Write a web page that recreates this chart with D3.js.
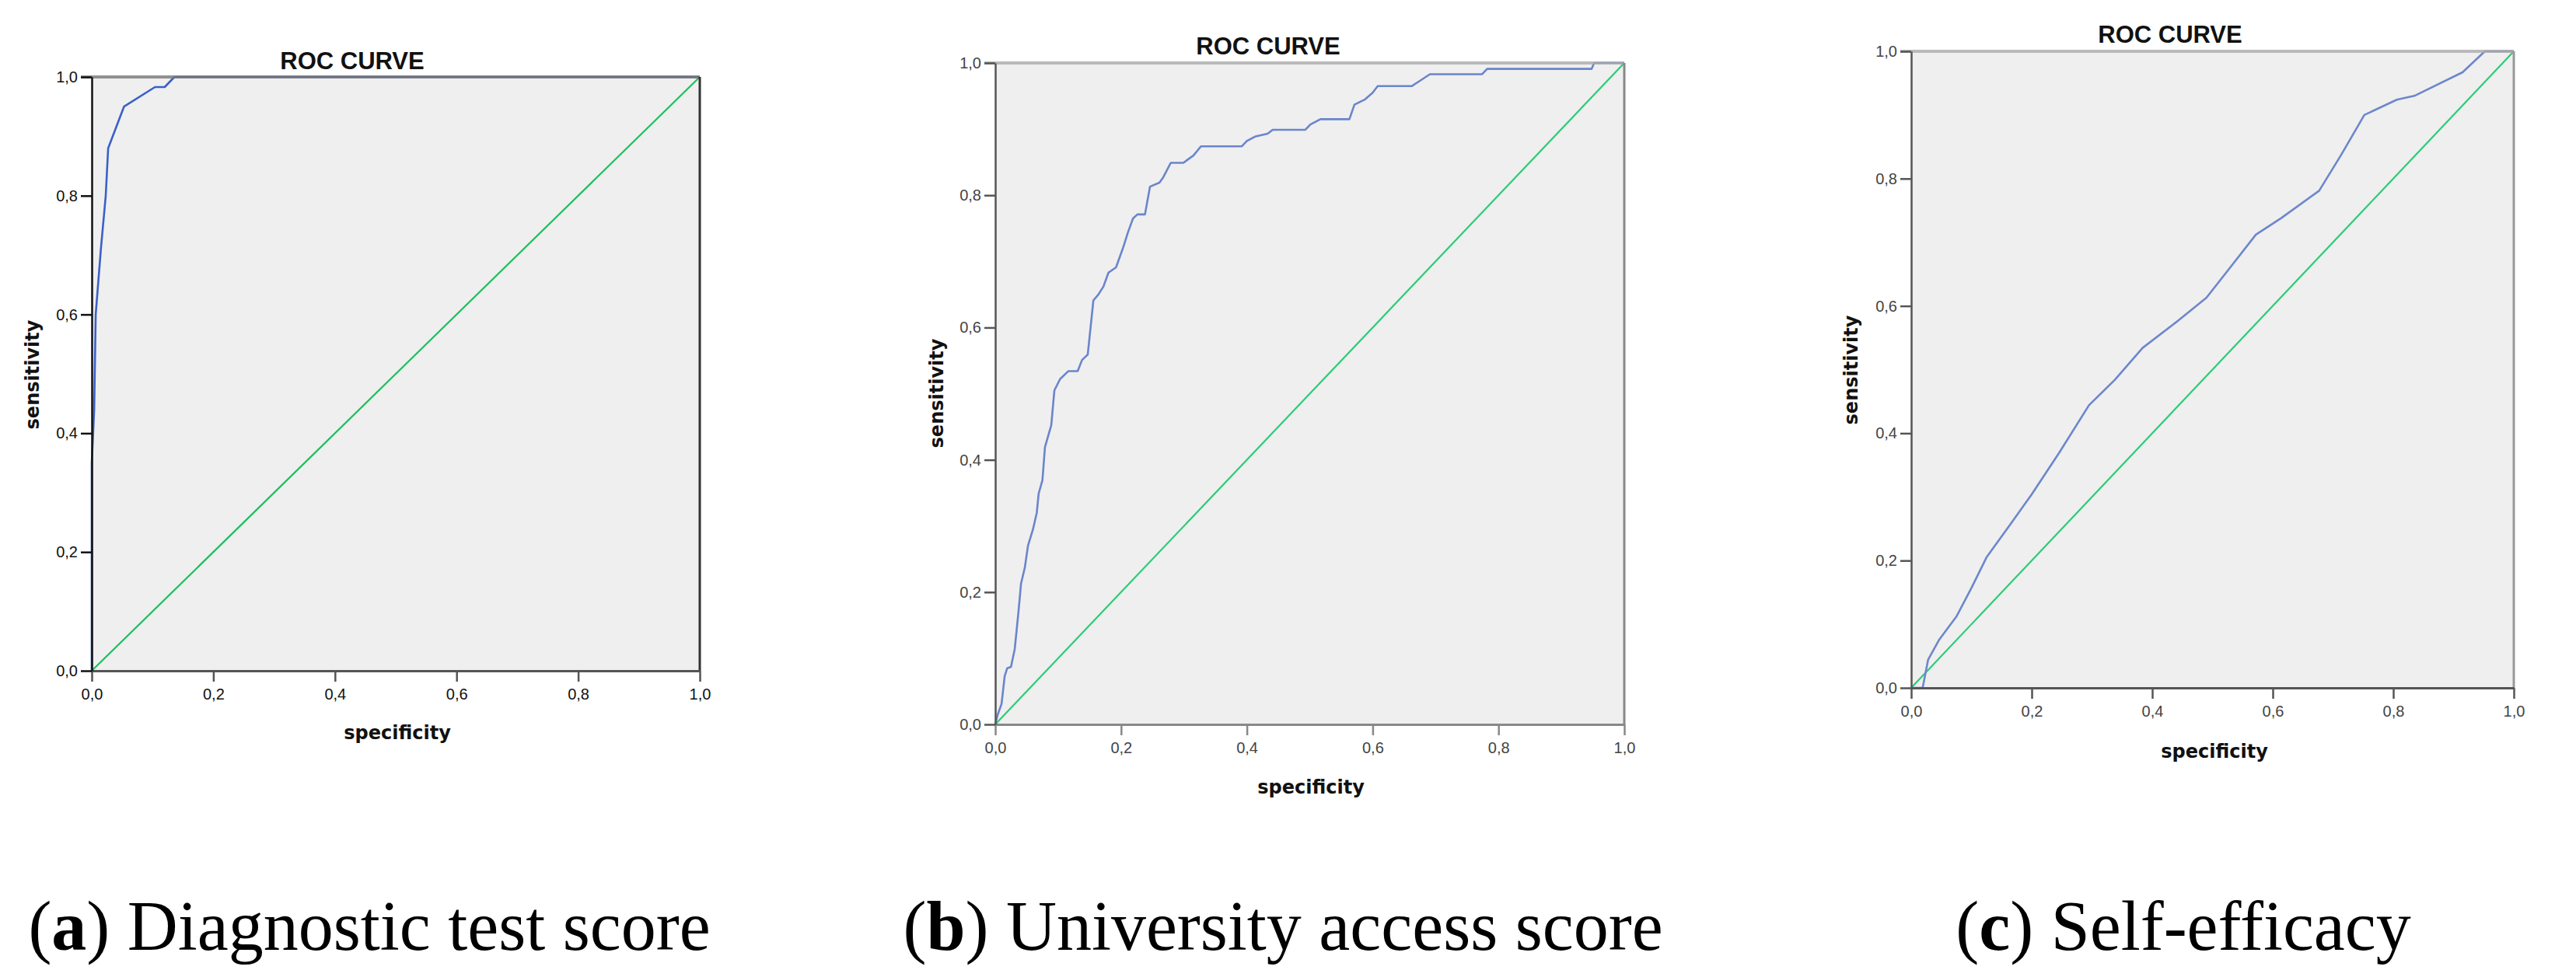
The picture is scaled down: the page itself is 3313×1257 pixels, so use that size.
<!DOCTYPE html>
<html>
<head>
<meta charset="utf-8">
<script src="https://cdn.jsdelivr.net/npm/d3@7"></script>
<style>
  body { margin: 0; background: #fff; }
</style>
</head>
<body>
<script>
// ROC curves: [x on "specificity" axis, sensitivity]
var rocA = [[0,0],[0,0.35],[0.004,0.44],[0.0065,0.60],[0.015,0.71],[0.023,0.80],[0.027,0.88],
  [0.053,0.95],[0.104,0.983],[0.12,0.983],[0.136,1],[1,1]];

var rocB = [[0,0],[0.004,0.015],[0.01,0.031],[0.015,0.073],[0.019,0.085],[0.025,0.087],[0.031,0.114],
  [0.037,0.171],[0.041,0.213],[0.047,0.237],[0.052,0.27],[0.06,0.295],[0.066,0.32],[0.069,0.349],
  [0.075,0.369],[0.079,0.419],[0.085,0.439],[0.089,0.452],[0.094,0.505],[0.103,0.522],[0.116,0.534],
  [0.131,0.534],[0.138,0.551],[0.147,0.559],[0.156,0.641],[0.164,0.65],[0.172,0.662],[0.18,0.683],
  [0.192,0.691],[0.203,0.72],[0.211,0.744],[0.219,0.765],[0.226,0.771],[0.238,0.771],[0.246,0.813],
  [0.261,0.819],[0.267,0.827],[0.279,0.849],[0.299,0.849],[0.315,0.86],[0.327,0.874],[0.392,0.874],
  [0.40,0.882],[0.414,0.889],[0.433,0.893],[0.441,0.899],[0.493,0.899],[0.501,0.907],[0.517,0.915],
  [0.563,0.915],[0.571,0.937],[0.588,0.945],[0.60,0.955],[0.608,0.965],[0.662,0.965],[0.675,0.973],
  [0.691,0.983],[0.774,0.983],[0.782,0.991],[0.948,0.991],[0.952,1],[1,1]];

var rocC = [[0,0],[0.019,0],[0.028,0.044],[0.046,0.075],[0.075,0.112],[0.1,0.157],[0.125,0.205],
  [0.163,0.255],[0.2,0.304],[0.246,0.37],[0.295,0.444],[0.338,0.484],[0.384,0.534],[0.439,0.574],
  [0.49,0.613],[0.529,0.66],[0.572,0.712],[0.614,0.738],[0.677,0.781],[0.714,0.838],[0.752,0.9],
  [0.806,0.924],[0.835,0.93],[0.915,0.967],[0.952,1],[1,1]];

var reference = [[0,0],[1,1]];

var tickValues = [0, 0.2, 0.4, 0.6, 0.8, 1];
var tickLabels = ["0,0", "0,2", "0,4", "0,6", "0,8", "1,0"];

var titleText = "ROC CURVE";
var xLabel = "specificity";
var yLabel = "sensitivity";
var captionLetters = ["a", "b", "c"];
var captionTexts = ["Diagnostic test score", "University access score", "Self-efficacy"];

// layout of the three panels
var panels = [
  { data: rocA, x0: 118, x1: 900, y0: 99, y1: 863,
    titleX: 453, titleY: 89, yLabX: 50, yLabY: 482, xLabX: 511, xLabY: 951, capX: 475,
    curve: "#3b60c8", green: "#19c05c", text: "#111",
    top: "#777", left: "#111", bottom: "#555", right: "#333" },
  { data: rocB, x0: 1280, x1: 2089, y0: 81, y1: 932,
    titleX: 1631, titleY: 70, yLabX: 1213, yLabY: 506, xLabX: 1686, xLabY: 1021, capX: 1650,
    curve: "#6a85cc", green: "#2ccc76", text: "#444",
    top: "#aaa", left: "#555", bottom: "#888", right: "#888" },
  { data: rocC, x0: 2458, x1: 3233, y0: 66, y1: 885,
    titleX: 2791, titleY: 55, yLabX: 2389, yLabY: 476, xLabX: 2848, xLabY: 975, capX: 2808,
    curve: "#6d87cc", green: "#2ccc76", text: "#444",
    top: "#aaa", left: "#555", bottom: "#555", right: "#999" }
];

var svg = d3.select("body").append("svg")
  .attr("width", 3313)
  .attr("height", 1257);

panels.forEach(function (p, i) {
  var x = d3.scaleLinear().domain([0, 1]).range([p.x0, p.x1]);
  var y = d3.scaleLinear().domain([0, 1]).range([p.y1, p.y0]);
  var g = svg.append("g");

  // plot background
  g.append("rect")
    .attr("x", p.x0).attr("y", p.y0)
    .attr("width", p.x1 - p.x0).attr("height", p.y1 - p.y0)
    .attr("fill", "#efefef");

  var line = d3.line()
    .x(function (d) { return x(d[0]); })
    .y(function (d) { return y(d[1]); });

  // reference diagonal
  g.append("path")
    .datum(reference)
    .attr("d", line)
    .attr("fill", "none")
    .attr("stroke", p.green)
    .attr("stroke-width", 2.2);

  // ROC curve
  g.append("path")
    .datum(p.data)
    .attr("d", line)
    .attr("fill", "none")
    .attr("stroke", p.curve)
    .attr("stroke-width", 2.6)
    .attr("stroke-linejoin", "round");

  // top and right frame
  g.append("line")
    .attr("x1", x(0) - 14).attr("x2", x(1))
    .attr("y1", y(1)).attr("y2", y(1))
    .attr("stroke", p.top).attr("stroke-width", 4)
    .attr("stroke-opacity", 0.8);
  g.append("line")
    .attr("x1", x(1)).attr("x2", x(1))
    .attr("y1", y(1)).attr("y2", y(0))
    .attr("stroke", p.right).attr("stroke-width", 3);

  // axes
  var xAxis = d3.axisBottom(x)
    .tickValues(tickValues)
    .tickFormat(function (d, j) { return tickLabels[j]; })
    .tickSize(14).tickSizeOuter(0).tickPadding(9);
  var yAxis = d3.axisLeft(y)
    .tickValues(tickValues)
    .tickFormat(function (d, j) { return tickLabels[j]; })
    .tickSize(14).tickSizeOuter(0).tickPadding(4);

  var gx = g.append("g")
    .attr("transform", "translate(0," + p.y1 + ")")
    .call(xAxis);
  gx.select(".domain").attr("stroke", p.bottom).attr("stroke-width", 3);
  gx.selectAll(".tick line").attr("stroke", p.bottom).attr("stroke-width", 2.5);

  var gy = g.append("g")
    .attr("transform", "translate(" + p.x0 + ",0)")
    .call(yAxis);
  gy.select(".domain").attr("stroke", p.left).attr("stroke-width", 2.5);
  gy.selectAll(".tick line").attr("stroke", p.left).attr("stroke-width", 2.5);

  g.selectAll(".tick text")
    .attr("fill", p.text)
    .style("font-family", "'Liberation Sans', Arial, sans-serif")
    .style("font-size", "20px");

  // title and axis labels
  g.append("text")
    .attr("x", p.titleX).attr("y", p.titleY)
    .attr("text-anchor", "middle")
    .style("font-family", "'Liberation Sans', Arial, sans-serif")
    .style("font-weight", "bold")
    .style("font-size", "31px")
    .attr("fill", "#111")
    .text(titleText);

  g.append("text")
    .attr("x", p.xLabX).attr("y", p.xLabY)
    .attr("text-anchor", "middle")
    .style("font-family", "'DejaVu Sans', sans-serif")
    .style("font-weight", "bold")
    .style("font-size", "24px")
    .attr("fill", "#111")
    .text(xLabel);

  g.append("text")
    .attr("transform", "translate(" + p.yLabX + "," + p.yLabY + ") rotate(-90)")
    .attr("text-anchor", "middle")
    .style("font-family", "'DejaVu Sans', sans-serif")
    .style("font-weight", "bold")
    .style("font-size", "24px")
    .attr("fill", "#111")
    .text(yLabel);

  // caption under the panel
  var cap = svg.append("text")
    .attr("x", p.capX).attr("y", 1222)
    .attr("text-anchor", "middle")
    .style("font-family", "'Liberation Serif', 'Times New Roman', serif")
    .style("font-size", "90px")
    .attr("fill", "#000");
  cap.append("tspan").text("(");
  cap.append("tspan").style("font-weight", "bold").text(captionLetters[i]);
  cap.append("tspan").text(") " + captionTexts[i]);
});
</script>
</body>
</html>
